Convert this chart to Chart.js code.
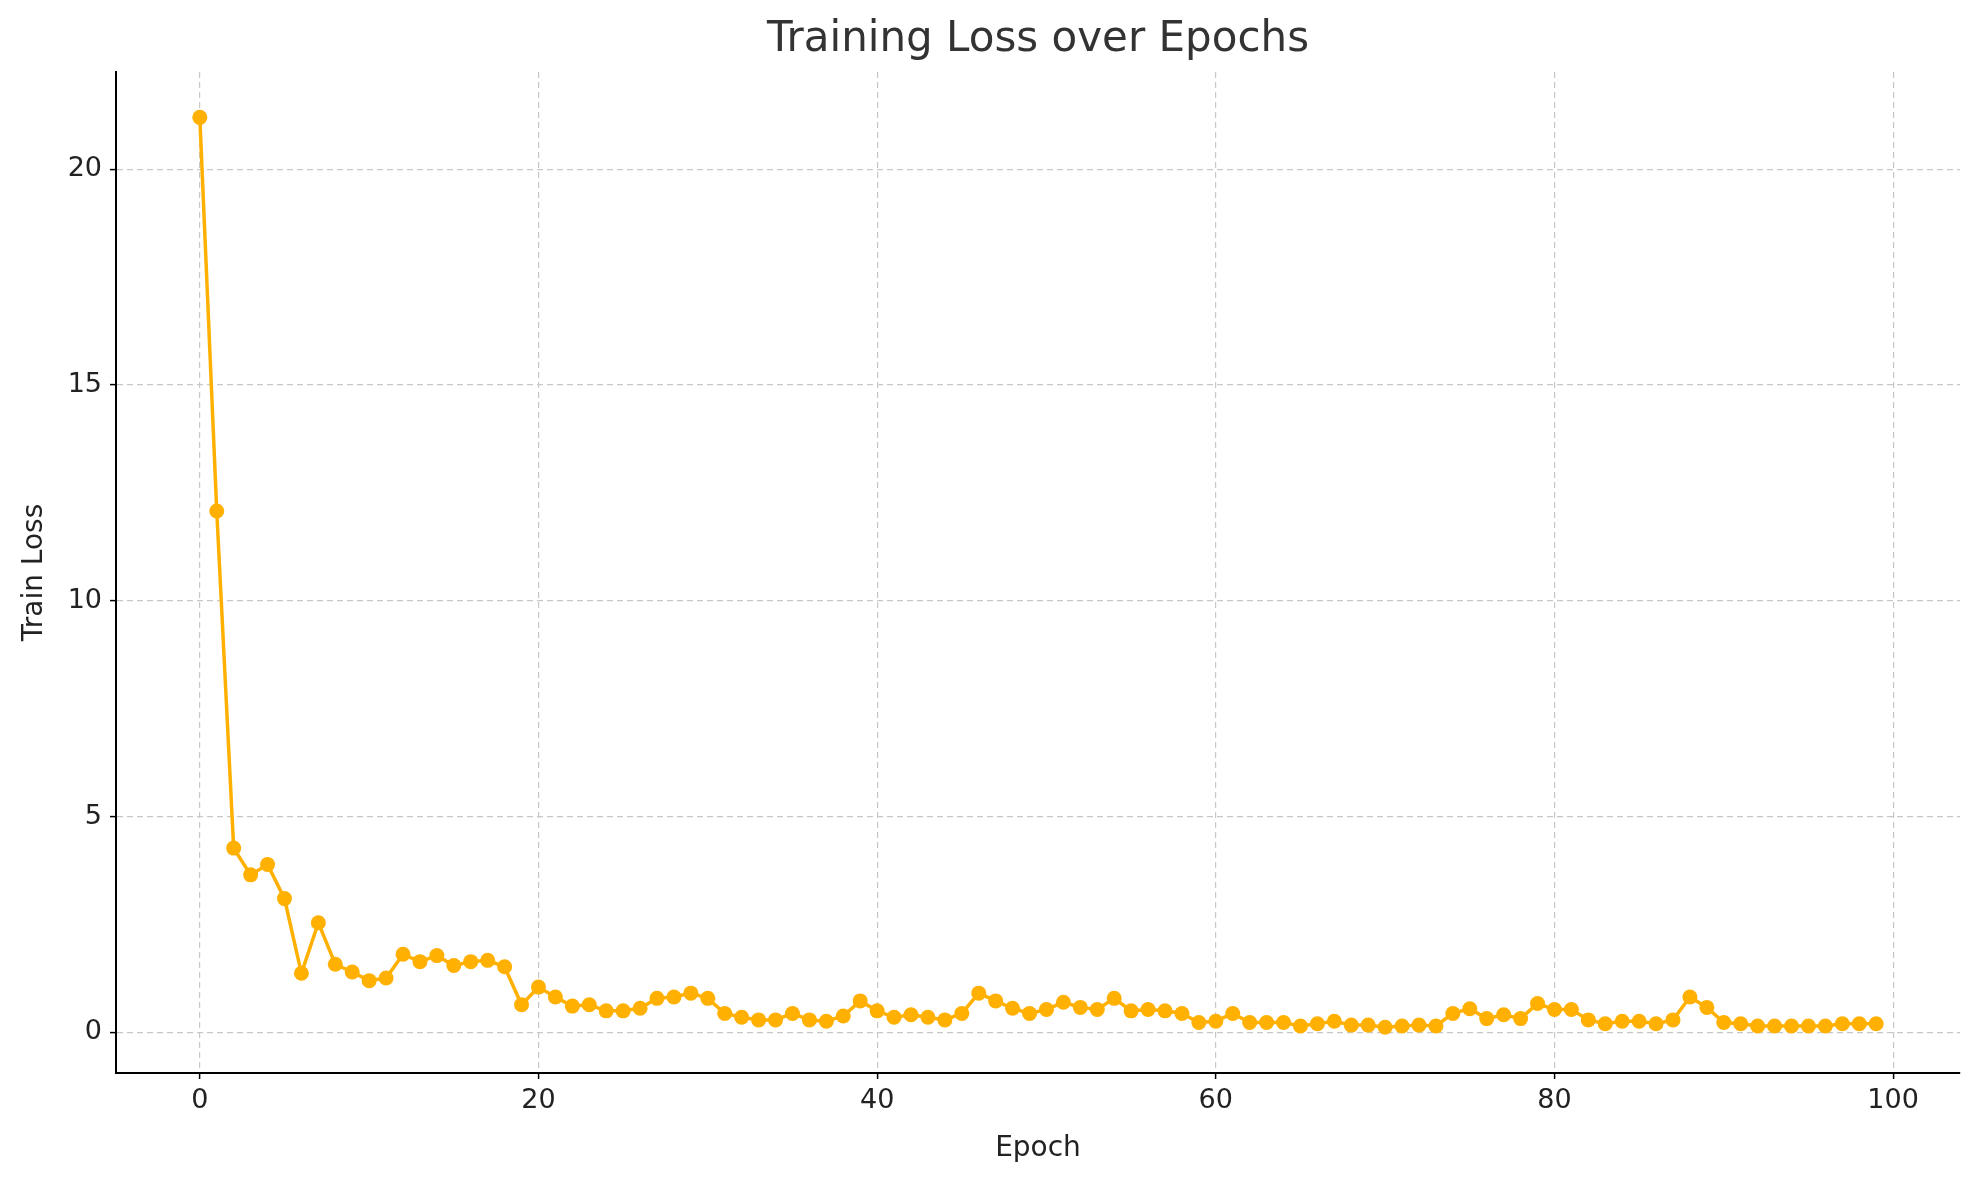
<!DOCTYPE html>
<html><head><meta charset="utf-8">
<script src="https://cdn.jsdelivr.net/npm/chart.js@4/dist/chart.umd.min.js"></script>
<style>html,body{margin:0;padding:0;background:#fff}#wrap{width:1979px;height:1180px}</style>
</head><body><div id="wrap"><canvas id="c"></canvas></div>
<script>
const epochs = Array.from({length:100},(_,i)=>i);
const trainLoss = [21.2,12.08,4.27,3.65,3.89,3.1,1.37,2.54,1.58,1.4,1.2,1.26,1.81,1.64,1.78,1.55,1.64,1.67,1.52,0.64,
1.05,0.82,0.61,0.64,0.5,0.5,0.56,0.79,0.82,0.91,0.79,0.44,0.35,0.29,0.29,0.44,0.29,0.26,0.38,0.73,
0.5,0.35,0.41,0.35,0.29,0.44,0.91,0.73,0.56,0.44,0.53,0.7,0.58,0.53,0.79,0.5,0.53,0.5,0.44,0.23,
0.26,0.44,0.23,0.23,0.23,0.15,0.2,0.26,0.17,0.17,0.12,0.15,0.17,0.15,0.44,0.55,0.32,0.41,0.32,0.67,
0.53,0.53,0.29,0.2,0.26,0.26,0.2,0.29,0.82,0.58,0.23,0.2,0.15,0.15,0.15,0.15,0.15,0.2,0.2,0.2];
const xTicks = [0,20,40,60,80,100];
const yTicks = [0,5,10,15,20];
const FONT = "'DejaVu Sans', sans-serif";
const titlePlugin = {id:'tp', afterDraw(ch){const c=ch.ctx;const a=ch.chartArea;c.save();c.fillStyle='#333';c.font="42px "+FONT;c.textAlign='center';c.textBaseline='middle';c.fillText('Training Loss over Epochs',(a.left+a.right)/2,40);c.restore();}};
const grid = {color:'#c8c8c8', lineWidth:1.2, tickColor:'#000', tickLength:6, tickBorderDash:[], tickWidth:1.5, drawTicks:true};
const border = {color:'#000', width:2, dash:[6,4]};
new Chart(document.getElementById('c'),{
 type:'line',
 data:{datasets:[{data:epochs.map((e,i)=>({x:e,y:trainLoss[i]})),borderColor:'#FFB000',backgroundColor:'#FFB000',pointBackgroundColor:'#FFB000',pointBorderWidth:0,pointRadius:7.5,borderWidth:3.5,tension:0}]},
 options:{responsive:true,maintainAspectRatio:false,animation:false,
  layout:{padding:{top:72,right:19,left:0,bottom:0}},
  plugins:{legend:{display:false},tooltip:{enabled:false}},
  scales:{
   x:{type:'linear',min:-4.95,max:103.95,afterBuildTicks:s=>{s.ticks=xTicks.map(v=>({value:v}));},afterFit:s=>{s.height=107;},
      grid:grid,border:border,
      ticks:{color:'#222',font:{size:27,family:FONT},padding:6,maxRotation:0},
      title:{display:true,text:'Epoch',color:'#222',font:{size:28,family:FONT},padding:{top:0,bottom:14}}},
   y:{type:'linear',min:-0.94,max:22.25,afterBuildTicks:s=>{s.ticks=yTicks.map(v=>({value:v}));},afterFit:s=>{s.width=116;},
      grid:grid,border:border,
      ticks:{color:'#222',font:{size:27,family:FONT},padding:8},
      title:{display:true,text:'Train Loss',color:'#222',font:{size:28,family:FONT},padding:{top:18,bottom:0}}}
  }},
 plugins:[titlePlugin]
});
</script></body></html>
